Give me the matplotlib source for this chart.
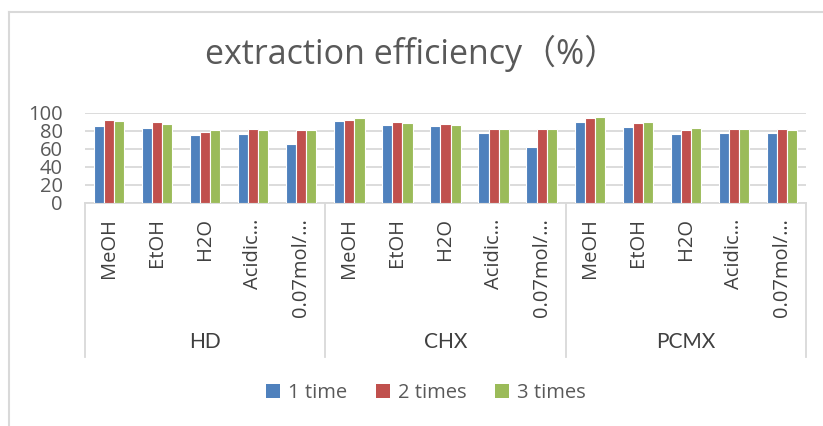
import numpy as np
import matplotlib
matplotlib.use("Agg")
import matplotlib.pyplot as plt
from matplotlib.lines import Line2D
from matplotlib.patches import Patch

groups = ["HD", "CHX", "PCMX"]
solvents = ["MeOH", "EtOH", "H2O", "Acidic…", "0.07mol/…"]
series_names = ["1 time", "2 times", "3 times"]
once = [85.4, 82.9, 75.7, 76.5, 65.3, 90.7, 86.2, 85.8, 77.3, 62.7, 89.6, 84.3, 76.5, 78.0, 78.0]
twice = [92.0, 90.0, 79.0, 81.7, 80.6, 92.6, 89.6, 87.7, 81.7, 82.4, 94.7, 88.8, 80.6, 81.7, 81.7]
thrice = [91.0, 87.3, 80.6, 81.0, 80.6, 95.0, 88.5, 86.9, 81.7, 82.4, 95.5, 89.6, 82.9, 81.7, 81.0]
colors = ["#4F81BD", "#C0504D", "#9BBB59"]

W, H = 823, 426
fig = plt.figure(figsize=(W / 100, H / 100), dpi=100)
ax = fig.add_axes([85 / W, 1 - 203 / H, 721 / W, 90 / H])

labels = solvents * len(groups)
x = np.arange(len(labels))
bw = 0.21
for k, vals in enumerate([once, twice, thrice]):
    ax.bar(x + (k - 1) * bw, vals, bw, color=colors[k], edgecolor="white",
           linewidth=0.8, zorder=3)

grid_c = "#D9D9D9"
ax.set_xlim(-0.5, len(labels) - 0.5)
ax.set_ylim(0, 100)
ax.set_yticks(range(0, 101, 20))
ax.yaxis.grid(True, color=grid_c, linewidth=1.3, zorder=0)
for s in ["top", "right", "left"]:
    ax.spines[s].set_visible(False)
ax.spines["bottom"].set_color(grid_c)
ax.spines["bottom"].set_linewidth(1.3)
ax.tick_params(axis="y", length=0, pad=16, labelsize=14.5, labelcolor="#595959")
ax.tick_params(axis="x", length=0, pad=11, labelsize=14.5, labelcolor="#404040")
for t in ax.get_yticklabels():
    t.set_family("Open Sans")
ax.set_xticks(x)
ax.set_xticklabels(labels, rotation=90, va="top", ha="center", family="Open Sans")

# category group box
tr = ax.get_xaxis_transform()
for xb in [-0.5, 4.5, 9.5, 14.5]:
    ax.plot([xb, xb], [0, -154 / 90], transform=tr, color=grid_c, lw=1.3, clip_on=False)
for i, g in enumerate(groups):
    ax.text(i * 5 + 2, -139 / 90, g, transform=tr, ha="center", va="center",
            fontsize=15, family="Lato", color="#404040")

fig.text(412 / W, 1 - 53 / H, "extraction efficiency（%）", ha="center", va="center",
         fontsize=24.5, color="#595959", family=["Open Sans", "Noto Sans CJK SC"])

handles = [Patch(facecolor=c, edgecolor="none") for c in colors]
fig.legend(handles, series_names, loc="center", bbox_to_anchor=(426 / W, 1 - 393 / H),
           ncol=3, frameon=False, prop={"family": "Open Sans", "size": 14.5},
           handlelength=0.7, handleheight=0.7, handletextpad=0.4, columnspacing=1.4,
           labelcolor="#595959")

# chart border
fig.add_artist(Line2D([8.5 / W, 8.5 / W], [0, 1 - 12 / H], color=grid_c, lw=1.5))
fig.add_artist(Line2D([8.5 / W, 1], [1 - 12 / H, 1 - 12 / H], color=grid_c, lw=1.5))

fig.savefig("out.png", dpi=100, facecolor="white")
